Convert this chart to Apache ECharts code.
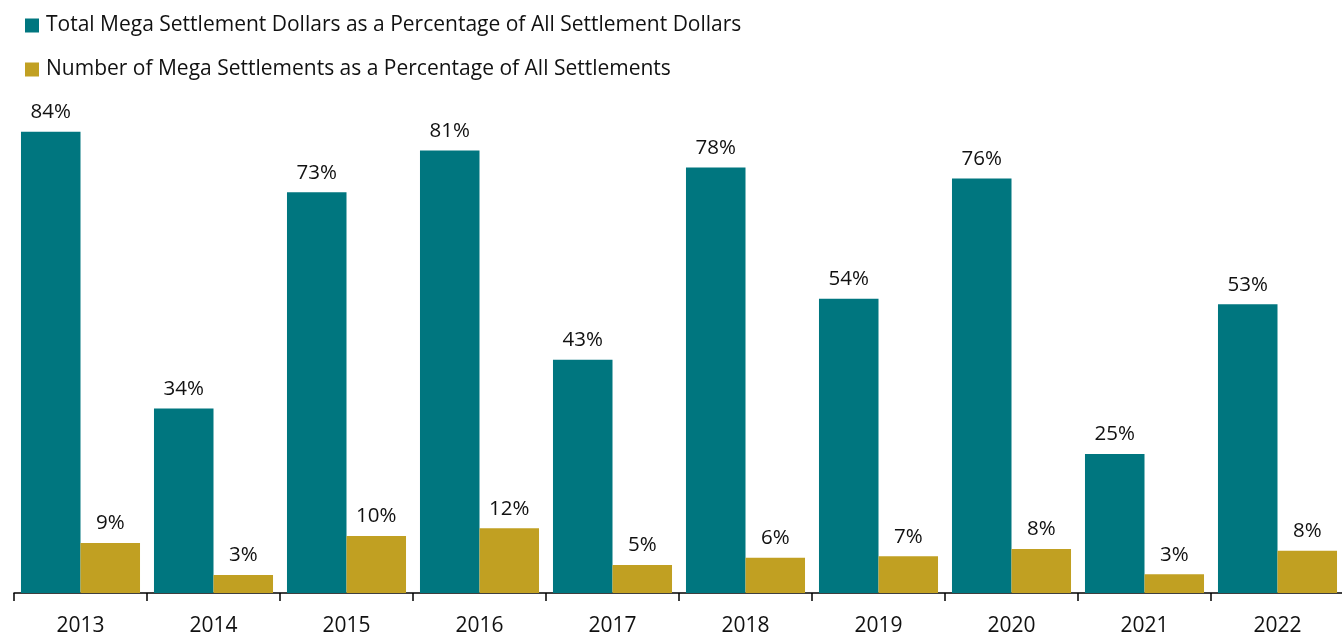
<!DOCTYPE html>
<html>
<head>
<meta charset="utf-8">
<script src="https://cdn.jsdelivr.net/npm/echarts@6/dist/echarts.min.js"></script>
<style>
  html, body { margin: 0; padding: 0; background: #fff; }
  #main { width: 1342px; height: 635px; }
</style>
</head>
<body>
<div id="main"></div>
<script>
const years = ['2013', '2014', '2015', '2016', '2017', '2018', '2019', '2020', '2021', '2022'];
// values; labels are rounded like the original
const megaDollars = [84, 33.6, 73, 80.6, 42.5, 77.5, 53.6, 75.5, 25.3, 52.6];
const megaCount = [9.1, 3.3, 10.4, 11.8, 5.1, 6.4, 6.7, 8.0, 3.4, 7.7];

const fontFam = '"Open Sans", "Liberation Sans", sans-serif';

let myChart = echarts.init(document.getElementById('main'));

let labelOpt = {
    show: true,
    position: 'top',
    distance: 9,
    color: '#111',
    fontSize: 20.5,
    fontFamily: fontFam,
    formatter: p => Math.round(p.value) + '%'
};

let option = {
    animation: false,
    legend: {
        orient: 'vertical',
        left: 20,
        top: 10,
        itemWidth: 14,
        itemHeight: 14,
        itemGap: 23,
        icon: 'rect',
        textStyle: { fontSize: 21, fontFamily: fontFam, color: '#111', padding: [0, 0, 0, 2] }
    },
    grid: { left: 14, right: -2, top: 44, bottom: 42, containLabel: false, outerBoundsMode: 'none' },
    xAxis: {
        type: 'category',
        data: years,
        axisLine: { lineStyle: { color: '#000', width: 1.5 } },
        axisTick: { show: true, length: 8, lineStyle: { color: '#000', width: 1.5 } },
        axisLabel: {
            fontSize: 21, fontFamily: fontFam, color: '#111', margin: 23, interval: 0,
            alignMinLabel: 'center', alignMaxLabel: 'center'
        }
    },
    yAxis: {
        type: 'value',
        min: 0,
        max: 100,
        show: false,
        splitLine: { show: false }
    },
    series: [
        {
            name: 'Total Mega Settlement Dollars as a Percentage of All Settlement Dollars',
            type: 'bar',
            data: megaDollars,
            itemStyle: { color: '#00767F' },
            barGap: '0%',
            barCategoryGap: '10.5%',
            label: labelOpt
        },
        {
            name: 'Number of Mega Settlements as a Percentage of All Settlements',
            type: 'bar',
            data: megaCount,
            itemStyle: { color: '#C1A022' },
            barGap: '0%',
            barCategoryGap: '10.5%',
            label: labelOpt
        }
    ]
};

myChart.setOption(option);
</script>
</body>
</html>
